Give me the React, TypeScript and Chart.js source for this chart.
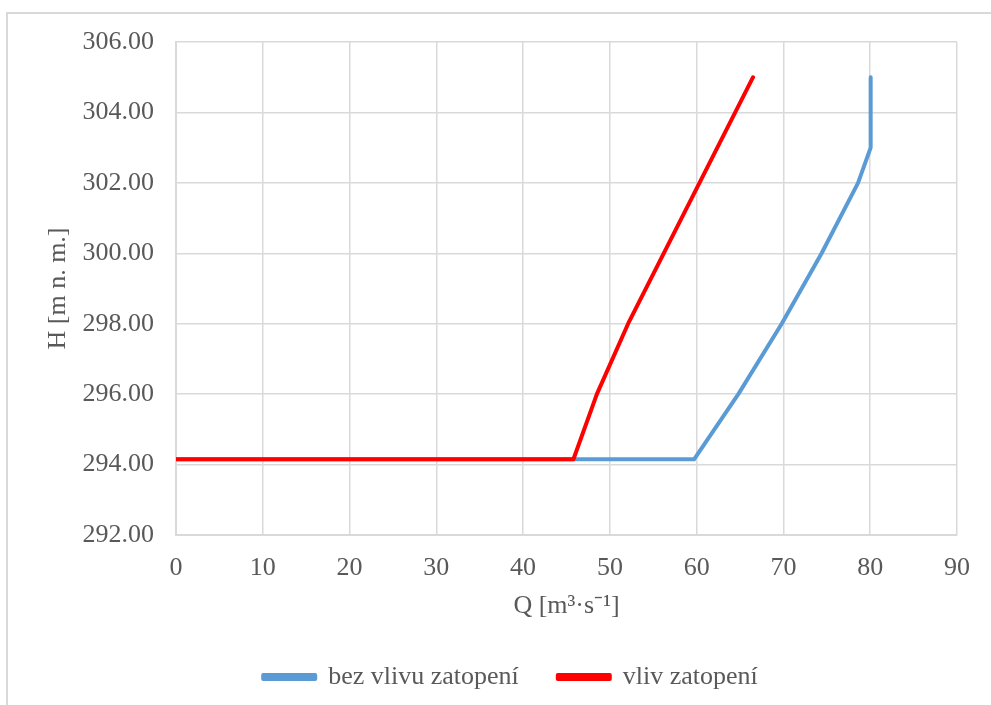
import React, { useEffect, useRef } from "react";
import { Chart, registerables } from "chart.js";

Chart.register(...registerables);

// Data
const blueQ = [0, 59.7, 64.8, 69.8, 74.4, 78.6, 80.05, 80.05];
const blueH = [294.15, 294.15, 296, 298, 300, 302, 303, 305];
const redQ = [0, 45.8, 48.5, 52.1, 66.5];
const redH = [294.15, 294.15, 296, 298, 305];

const seriesNames = ["bez vlivu zatopení", "vliv zatopení"];
const xTitle = "Q [m³·s⁻¹]";
const yTitle = "H [m n. m.]";

const FONT = "'Liberation Serif', 'Times New Roman', serif";
const TXT = "#595959";
const GRID = "#d9d9d9";

const legendShift = {
  id: "legendShift",
  afterLayout(chart: any) {
    const lg = chart.legend;
    if (lg) {
      lg.left += 27;
      lg.right += 27;
    }
  },
};

export default function App() {
  const ref = useRef<HTMLCanvasElement | null>(null);

  useEffect(() => {
    if (!ref.current) return;
    const toPts = (xs: number[], ys: number[]) => xs.map((x, i) => ({ x, y: ys[i] }));
    const chart = new Chart(ref.current, {
      type: "scatter",
      plugins: [legendShift],
      data: {
        datasets: [
          {
            label: seriesNames[0],
            data: toPts(blueQ, blueH),
            showLine: true,
            borderColor: "#5b9bd5",
            backgroundColor: "#5b9bd5",
            borderWidth: 4,
            pointRadius: 0,
            borderCapStyle: "round",
            borderJoinStyle: "round",
            order: 1,
          },
          {
            label: seriesNames[1],
            data: toPts(redQ, redH),
            showLine: true,
            borderColor: "#ff0000",
            backgroundColor: "#ff0000",
            borderWidth: 4,
            pointRadius: 0,
            borderCapStyle: "round",
            borderJoinStyle: "round",
            order: 0,
          },
        ],
      },
      options: {
        animation: false,
        responsive: false,
        maintainAspectRatio: false,
        layout: { padding: { left: 10, top: 42, right: 34, bottom: 5 } },
        plugins: {
          tooltip: { enabled: false },
          legend: {
            position: "bottom",
            labels: {
              font: { family: FONT, size: 26 },
              color: TXT,
              boxWidth: 52,
              boxHeight: 4,
              padding: 39,
              sort: (a: any, b: any) => a.datasetIndex - b.datasetIndex,
            },
          },
        },
        scales: {
          x: {
            type: "linear",
            min: 0,
            max: 90,
            ticks: {
              stepSize: 10,
              color: TXT,
              font: { family: FONT, size: 26 },
              padding: 18,
            },
            grid: { color: GRID, lineWidth: 1.5, drawTicks: false },
            border: { color: GRID, width: 2 },
            title: {
              display: true,
              text: xTitle,
              color: TXT,
              font: { family: FONT, size: 26 },
              padding: { top: 0, bottom: 3 },
            },
            afterFit: (s: any) => {
              s.height = 90;
            },
          },
          y: {
            type: "linear",
            min: 292,
            max: 306,
            ticks: {
              stepSize: 2,
              color: TXT,
              font: { family: FONT, size: 26 },
              padding: 22,
              callback: (v: any) => Number(v).toFixed(2),
            },
            grid: { color: GRID, lineWidth: 1.5, drawTicks: false },
            border: { color: GRID, width: 2 },
            title: {
              display: true,
              text: yTitle,
              color: TXT,
              font: { family: FONT, size: 26 },
              padding: { top: 33, bottom: 0 },
            },
            afterFit: (s: any) => {
              s.width = 166;
            },
          },
        },
      },
    });
    return () => chart.destroy();
  }, []);

  return (
    <div
      style={{
        position: "fixed",
        left: 0,
        top: 0,
        width: 991,
        height: 705,
        overflow: "hidden",
        background: "#fff",
      }}
    >
      <div
        style={{
          position: "absolute",
          left: 6,
          top: 12,
          width: 1100,
          height: 800,
          border: "2px solid #d9d9d9",
          boxSizing: "border-box",
        }}
      />
      <canvas
        ref={ref}
        width={991}
        height={705}
        style={{ position: "absolute", left: 0, top: 0, width: 991, height: 705 }}
      />
    </div>
  );
}
